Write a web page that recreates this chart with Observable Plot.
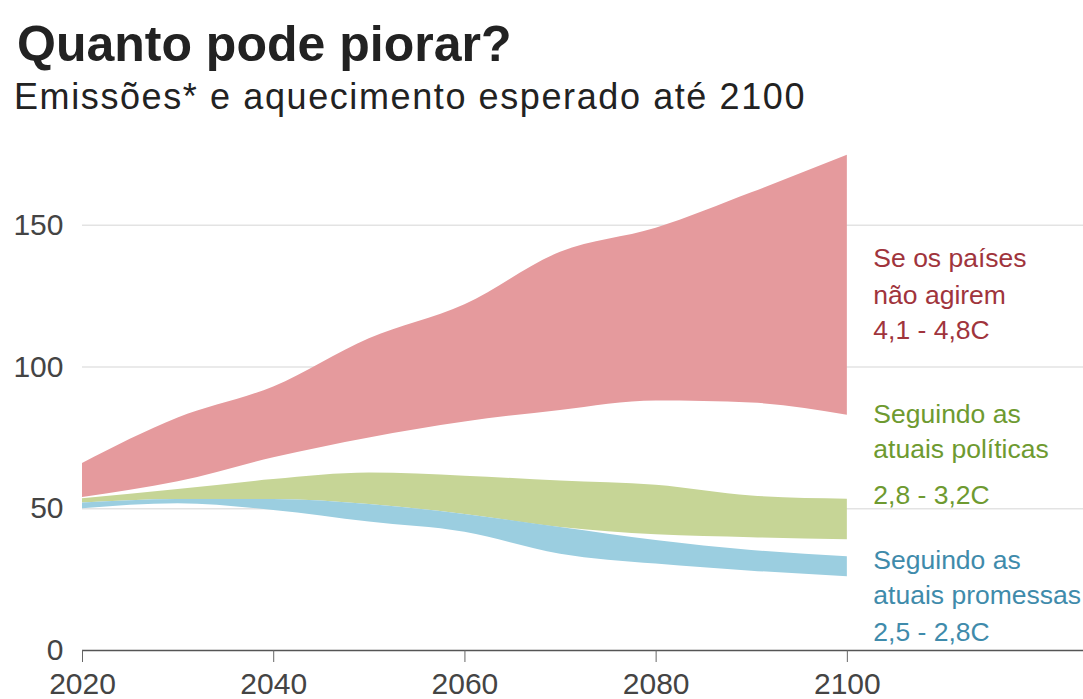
<!DOCTYPE html>
<html>
<head>
<meta charset="utf-8">
<script src="https://cdn.jsdelivr.net/npm/d3@7"></script>
<script src="https://cdn.jsdelivr.net/npm/@observablehq/plot@0.6"></script>
<style>
  html, body { margin: 0; padding: 0; background: #fff; }
  body { width: 1083px; height: 699px; overflow: hidden; font-family: "Liberation Sans", Arial, Helvetica, sans-serif; }
  #header { position: relative; height: 130px; }
  #title { position: absolute; left: 17px; top: 14px; font-size: 50px; font-weight: bold; color: #222; line-height: 60px; white-space: nowrap; }
  #subtitle { position: absolute; left: 14px; top: 75px; font-size: 36px; color: #222; line-height: 44px; white-space: nowrap; letter-spacing: 1.6px; }
</style>
</head>
<body>
<div id="header">
  <div id="title">Quanto pode piorar?</div>
  <div id="subtitle">Emissões* e aquecimento esperado até 2100</div>
</div>
<div id="chart"></div>
<script>
// ---- data ----
const years      = [2020, 2030, 2040, 2050, 2060, 2070, 2080, 2090, 2100];
const redHigh    = [66, 82, 93, 110, 122, 140.5, 149, 161.5, 174.7];
const redLow     = [54, 59.5, 68, 75, 80.6, 84.7, 88, 87.3, 83];
const greenHigh  = [53.5, 56.8, 60.3, 62.6, 61.5, 59.8, 58.3, 54.5, 53.4];
const greenLow   = [52, 53.3, 53.3, 51.5, 48, 43.4, 40.8, 39.8, 39.1];
const blueHigh   = [52, 53.3, 53.3, 51.5, 48, 43.4, 38.8, 35.3, 33.1];
const blueLow    = [50, 51.8, 49.4, 45.3, 41.7, 34, 30.5, 28, 26];
const yTicks     = [0, 50, 100, 150];
const xTicks     = [2020, 2040, 2060, 2080, 2100];
const redLabel   = ["Se os países", "não agirem", "4,1 - 4,8C"];
const greenLabel = ["Seguindo as", "atuais políticas", "2,8 - 3,2C"];
const blueLabel  = ["Seguindo as", "atuais promessas", "2,5 - 2,8C"];

// ---- build tables ----
const band = (hi, lo) => years.map((x, i) => ({x, hi: hi[i], lo: lo[i]}));
const redData = band(redHigh, redLow);
const greenData = band(greenHigh, greenLow);
const blueData = band(blueHigh, blueLow);

const colors = {
  red: "#e59a9d", green: "#c6d596", blue: "#9bcee0",
  redText: "#a0343c", greenText: "#6e9a30", blueText: "#3f8bab"
};

// label anchor positions (value units on the y scale)
const labelSets = [
  {lines: redLabel, ys: [138.3, 125.3, 112.9], fill: colors.redText},
  {lines: greenLabel, ys: [83.3, 70.9, 54.7], fill: colors.greenText},
  {lines: blueLabel, ys: [31.8, 19.4, 6.4], fill: colors.blueText}
];
const labelMarks = labelSets.map(s =>
  Plot.text(s.lines.map((t, i) => ({t, y: s.ys[i]})), {
    x: () => 2100, y: "y", text: "t", dx: 26, textAnchor: "start",
    fill: s.fill, fontSize: 26.5, lineAnchor: "middle"
  })
);

const curve = "monotone-x";
const chart = Plot.plot({
  width: 1083,
  height: 569,
  marginLeft: 82,
  marginRight: 0,
  marginTop: 24,
  marginBottom: 49,
  x: {domain: [2020, 2124.7], label: null},
  y: {domain: [0, 175], label: null},
  style: {fontFamily: "'Liberation Sans', Arial, Helvetica, sans-serif", fontSize: "30px", color: "#444", background: "#fff"},
  marks: [
    Plot.ruleY([50, 100, 150], {stroke: "#e3e3e3", strokeWidth: 1.5}),
    Plot.areaY(redData, {x: "x", y1: "lo", y2: "hi", fill: colors.red, curve}),
    Plot.areaY(greenData, {x: "x", y1: "lo", y2: "hi", fill: colors.green, curve}),
    Plot.areaY(blueData, {x: "x", y1: "lo", y2: "hi", fill: colors.blue, curve}),
    Plot.ruleY([0], {stroke: "#555", strokeWidth: 1.6}),
    Plot.axisX(xTicks, {tickSize: 12, tickPadding: 10, tickFormat: d => String(d), stroke: "#666", fill: "#444", fontSize: 30, label: null}),
    Plot.axisY(yTicks, {tickSize: 0, tickPadding: 19, fill: "#444", fontSize: 30, label: null}),
    ...labelMarks
  ]
});
document.getElementById("chart").appendChild(chart);
</script>
</body>
</html>
